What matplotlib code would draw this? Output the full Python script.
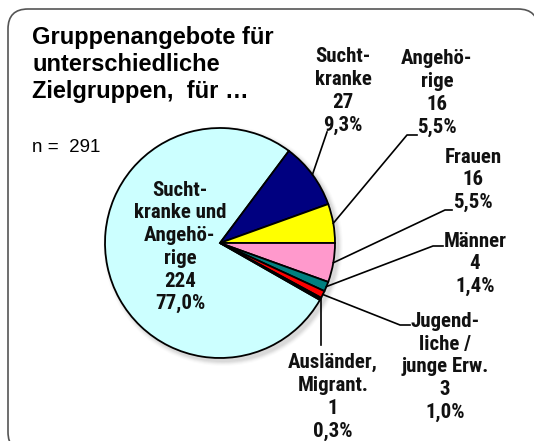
"""Kreisdiagramm: Gruppenangebote für unterschiedliche Zielgruppen."""
import matplotlib
matplotlib.use("Agg")
import matplotlib.pyplot as plt
from matplotlib.patches import Circle, FancyBboxPatch
import numpy as np

# --- Daten ---------------------------------------------------------------
labels = [
    "Sucht-\nkranke und\nAngehö-\nrige",
    "Sucht-\nkranke",
    "Angehö-\nrige",
    "Frauen",
    "Männer",
    "Jugend-\nliche /\njunge Erw.",
    "Ausländer,\nMigrant.",
]
counts = [224, 27, 16, 16, 4, 3, 1]
percents = ["77,0%", "9,3%", "5,5%", "5,5%", "1,4%", "1,0%", "0,3%"]
colors = ["#CCFFFF", "#000080", "#FFFF00", "#FF99CC", "#008080", "#FF0000", "#000000"]

title = "Gruppenangebote für\nunterschiedliche\nZielgruppen,  für …"
n_text = "n =  291"

# --- Layout (Pixel, y von oben) -----------------------------------------
W, H = 534, 441
center_px = (220, 243)
radius = 115
# Textmitte je Label
label_pos = [(180, 247), (343, 91), (437, 93), (473, 180), (475, 264), (445, 367), (333, 397)]
# Führungslinien: Knick / Endpunkte (None = Label im Kreis)
leader_pts = [
    None,
    [(327, 132)],
    [(407, 135), (417, 135)],
    [(445, 210), (452, 210)],
    [(433, 246), (443, 246)],
    [(400, 325), (410, 325)],
    "vertical",
]


def fy(y):
    return H - y


fig = plt.figure(figsize=(W / 100, H / 100), dpi=100)
ax = fig.add_axes([0, 0, 1, 1])

# Rahmen
frame = FancyBboxPatch((8, fy(452)), 530, 443, boxstyle="round,pad=0,rounding_size=20",
                       facecolor="white", edgecolor="#555555", linewidth=1.2, zorder=0)
ax.add_patch(frame)

cx, cy = center_px[0], fy(center_px[1])

# weicher Schatten
for i, a in enumerate(np.linspace(0.10, 0.03, 5)):
    ax.add_patch(Circle((cx + 3, cy - 3), radius + 1 + i, facecolor="#808080",
                        edgecolor="none", alpha=a, zorder=1))

start = 360 * sum(counts[:3]) / sum(counts)
wedges, _ = ax.pie(counts, colors=colors, startangle=start, counterclock=False,
                   center=(cx, cy), radius=radius, frame=True,
                   wedgeprops=dict(edgecolor="black", linewidth=1.3))
for w in wedges:
    w.set_zorder(2)
ax.set_xlim(0, W)
ax.set_ylim(0, H)
ax.set_aspect("equal")
ax.axis("off")

fam = ["Roboto Condensed", "Barlow Semi Condensed", "DejaVu Sans"]
for i, w in enumerate(wedges):
    txt = f"{labels[i]}\n{counts[i]}\n{percents[i]}"
    lx, ly = label_pos[i]
    ax.text(lx, fy(ly), txt, ha="center", va="center", fontsize=15, fontweight="bold",
            family=fam, linespacing=1.25, color="#111111", zorder=5)

    pts = leader_pts[i]
    if pts is None:
        continue
    mid = np.deg2rad((w.theta1 + w.theta2) / 2)
    sx, sy = cx + radius * np.cos(mid), cy + radius * np.sin(mid)
    if pts == "vertical":
        xs, ys = [sx, sx], [sy, fy(345)]
    else:
        xs = [sx] + [p[0] for p in pts]
        ys = [sy] + [fy(p[1]) for p in pts]
    ax.plot(xs, ys, color="black", linewidth=1.2, zorder=4)

ax.text(32, fy(26), title, ha="left", va="top", fontsize=17, fontweight="bold",
        family=["Liberation Sans", "DejaVu Sans"], linespacing=1.22, color="black")
ax.text(32, fy(147), n_text, ha="left", va="center", fontsize=13.5,
        family=["Liberation Sans", "DejaVu Sans"], color="black")

fig.savefig("out.png", dpi=100)
